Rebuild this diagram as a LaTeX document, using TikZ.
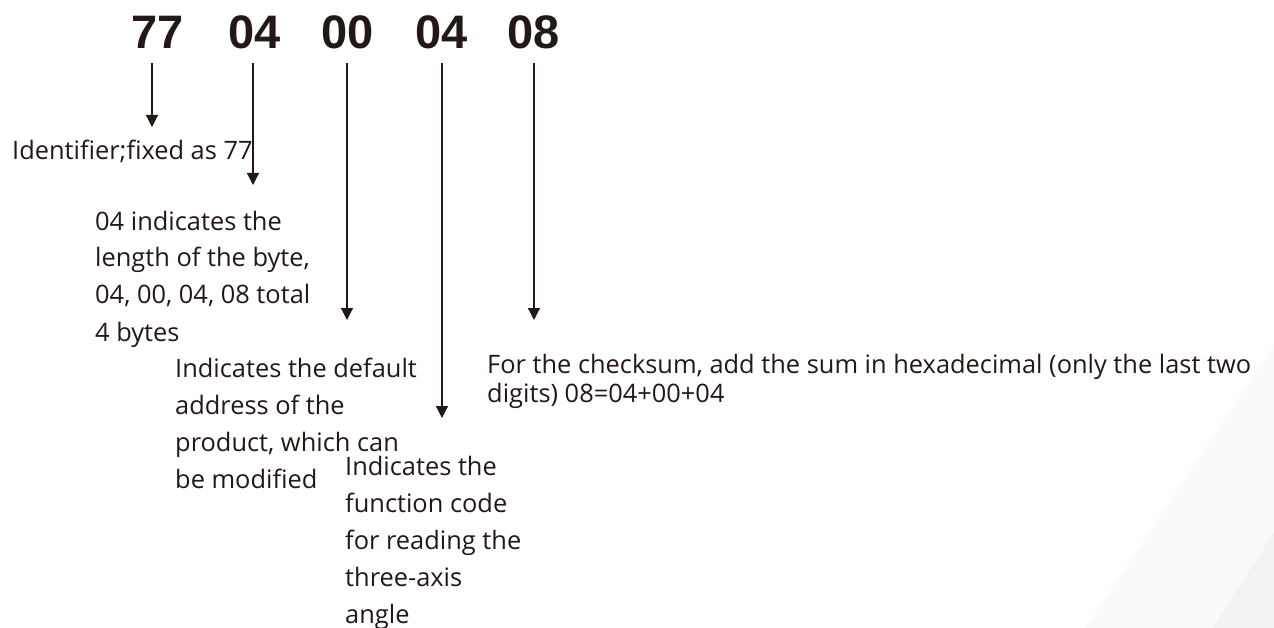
\documentclass[tikz,border=0pt]{standalone}
\usepackage{fontspec}
\setmainfont{Open Sans}
\newfontfamily\bytefont{Liberation Sans}
\usetikzlibrary{arrows.meta}
\definecolor{ink}{HTML}{231815}
\definecolor{shadeA}{HTML}{FAFAFA}
\definecolor{shadeB}{HTML}{F2F3F3}

\begin{document}
\begin{tikzpicture}[x=1pt, y=-1pt,
    byte/.style={font=\bytefont\bfseries\fontsize{47}{47}\selectfont, text=ink,
      inner sep=0pt, outer ysep=14pt, anchor=base},
    note/.style={font=\fontsize{25.4}{37}\selectfont, text=ink, align=left,
      inner sep=0pt, anchor=base west},
    arr/.style={draw=ink, line width=1.2pt, -{Triangle[width=12pt,length=12pt]}}]
  \useasboundingbox (0,0) rectangle (1274,628);
  % faint corner in the background
  \fill[shadeA] (1274,344) -- (1085,628) -- (1274,628) -- cycle;
  \fill[shadeB] (1274,533) -- (1212,628) -- (1274,628) -- cycle;
  % the five bytes
  \node[byte] (b77) at (158,49) {77};
  \node[byte] (blen) at (255,49) {04};
  \node[byte] (baddr) at (348,49) {00};
  \node[byte] (bfunc) at (442,49) {04};
  \node[byte] (bsum) at (534,49) {08};
  % where the arrows end
  \coordinate (t77) at (152,127);
  \coordinate (tlen) at (253,185);
  \coordinate (taddr) at (347,320);
  \coordinate (tfunc) at (442,418);
  \coordinate (tsum) at (534,320);
  % notes (placed by the baseline of their last line)
  \node[note] (ident) at (12,160) {Identifier;fixed as 77};
  \node[note] (lenlbl) at (95,341) {04 indicates the\\length of the byte,\\04, 00, 04, 08 total\\4 bytes};
  \node[note] (addrlbl) at (175,488) {Indicates the default\\address of the\\product, which can\\be modified};
  \node[note] (funclbl) at (345,623) {Indicates the\\function code\\for reading the\\three-axis\\angle};
  \node[note, font=\fontsize{25.4}{29}\selectfont] (sumlbl) at (487,402)
    {For the checksum, add the sum in hexadecimal (only the last two\\digits) 08=04+00+04};
  % arrows
  \draw[arr] (b77.south -| t77) -- (t77);
  \draw[arr] (blen.south -| tlen) -- (tlen);
  \draw[arr] (baddr.south -| taddr) -- (taddr);
  \draw[arr] (bfunc.south -| tfunc) -- (tfunc);
  \draw[arr] (bsum.south -| tsum) -- (tsum);
\end{tikzpicture}
\end{document}
